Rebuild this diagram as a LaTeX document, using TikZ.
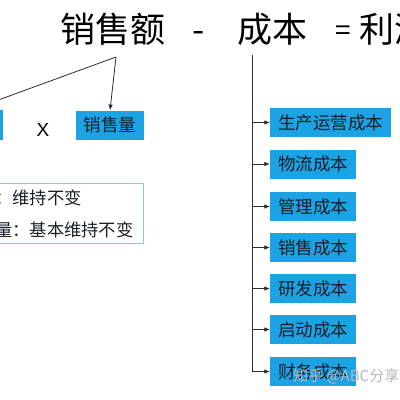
\documentclass[tikz,border=0pt]{standalone}
\usepackage{fontspec}
\setmainfont{Noto Sans CJK SC}
\newfontfamily\latinsans{Liberation Sans}
\usetikzlibrary{arrows.meta}
\tikzset{>={Latex[width=1.6mm,length=2mm]}}
\definecolor{boxblue}{RGB}{27,163,228}
\definecolor{boxtext}{RGB}{28,30,40}
\definecolor{noteframe}{RGB}{140,200,208}
\definecolor{linegray}{RGB}{45,45,45}
\tikzset{
  titletext/.style={inner sep=0pt, anchor=base, text=black,
    font=\fontsize{35}{40}\selectfont},
  costbox/.style={fill=boxblue, text=boxtext, inner xsep=8pt, inner ysep=0pt,
    minimum height=29pt, font=\fontsize{17.5}{20}\selectfont},
  noteline/.style={inner sep=0pt, anchor=west, text=boxtext,
    font=\fontsize{17.3}{20}\selectfont},
  link/.style={linegray, line width=0.8pt}
}
\newcommand{\fsz}[1]{\fontsize{#1}{#1}\selectfont}

\begin{document}
\begin{tikzpicture}[x=1pt,y=-1pt]
\useasboundingbox (0,0) rectangle (400,400);
\clip (0,0) rectangle (400,400);
\fill[white] (0,0) rectangle (400,400);
% title line
\node[titletext] (sales) at (113,42) {销售额};
\node[titletext] (minus) at (199,42) {-};
\node[titletext] (cost) at (272,42) {成本};
\node[titletext, font=\fsz{28}] (equal) at (343.5,40) {=};
\node[titletext, anchor=base west] (profit) at (359,42) {利润};
% revenue side
\node[costbox, minimum width=68pt] (volume) at (110,125) {销售量};
\node[costbox, minimum width=63pt, minimum height=30pt] (price) at (-28.5,125) {};
\node[inner sep=0pt, font=\latinsans\fsz{19}] (times) at (43,130) {X};
\coordinate (split) at (116,57);
\draw[link] (split) -- (price.north);
\draw[link,->] (split) -- (volume.north);
\node[noteline] (keep1) at (-5,198) {：维持不变};
\node[noteline] (keep2) at (-5,230) {量：基本维持不变};
\draw[noteframe, line width=0.9pt] (-20,183) rectangle (143,243);
% cost side
\node[costbox, anchor=west] (c1) at (270,122.5) {生产运营成本};
\node[costbox, anchor=west] (c2) at (270,164) {物流成本};
\node[costbox, anchor=west] (c3) at (270,206.5) {管理成本};
\node[costbox, anchor=west] (c4) at (270,247.5) {销售成本};
\node[costbox, anchor=west] (c5) at (270,288.5) {研发成本};
\node[costbox, anchor=west] (c6) at (270,329.5) {启动成本};
\node[costbox, anchor=west] (c7) at (270,371.5) {财务成本};
\coordinate (trunk) at (252,55);
\draw[link,->] (trunk) |- (c7.west);
\foreach \i in {1,...,6}
  \draw[link,->] (trunk |- c\i.west) -- (c\i.west);
% watermark
\node[inner sep=0pt, anchor=west, text=white!72!black,
  font=\fsz{15}] (mark) at (293,376) {知乎 @ABC分享};
\end{tikzpicture}
\end{document}
